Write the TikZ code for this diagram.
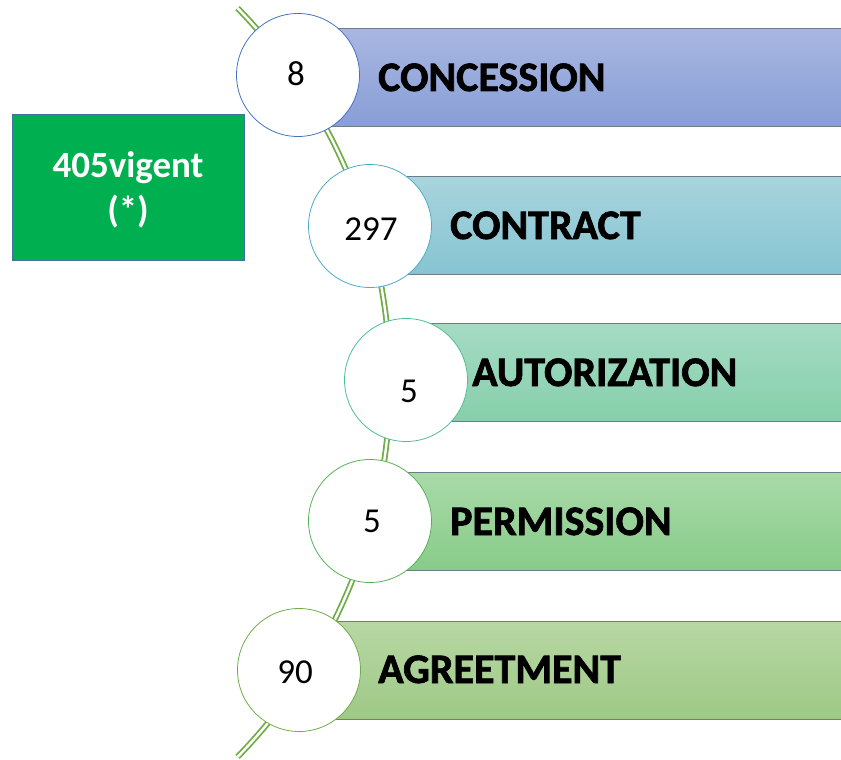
\documentclass[tikz,border=0pt]{standalone}
\usepackage{fontspec}
\setmainfont{Carlito}
\newfontfamily\heavyfont{Carlito}[BoldFont={Carlito Bold}, BoldFeatures={FakeBold=1.6}]
\definecolor{barline}{HTML}{6F7C86}
\definecolor{spinegreen}{HTML}{70AD47}
\definecolor{bAt}{HTML}{A9B7E1}\definecolor{bAb}{HTML}{889ED7}
\definecolor{bBt}{HTML}{A8D4DD}\definecolor{bBb}{HTML}{86C4D2}
\definecolor{bCt}{HTML}{A5DBC4}\definecolor{bCb}{HTML}{86CFAB}
\definecolor{bDt}{HTML}{A9DAA9}\definecolor{bDb}{HTML}{88CB89}
\definecolor{bEt}{HTML}{B8D7A4}\definecolor{bEb}{HTML}{9EC986}
\definecolor{cA}{HTML}{4472C4}
\definecolor{cB}{HTML}{4BACC6}
\definecolor{cC}{HTML}{4DBE95}
\definecolor{cD}{HTML}{55B257}
\definecolor{cE}{HTML}{70AD47}
\definecolor{boxgreen}{HTML}{00B050}
\definecolor{boxline}{HTML}{41719C}
\begin{document}
\begin{tikzpicture}[x=1pt,y=-1pt,
  bar/.style 2 args={rectangle, draw=barline, line width=0.7pt, top color=#1, bottom color=#2,
     anchor=north west, minimum width=540pt, minimum height=98pt, inner sep=0pt},
  numcircle/.style={circle, draw=#1, line width=0.8pt, fill=white, minimum size=123pt, inner sep=0pt},
  spine/.style={draw=spinegreen, line width=1.8pt, double=white, double distance=2.4pt},
  bartext/.style={anchor=base west, font=\fontsize{42}{46}\heavyfont\bfseries, inner sep=0pt},
  numtext/.style={anchor=base, font=\fontsize{35}{40}\selectfont, inner sep=0pt},
  boxtext/.style={anchor=base, font=\fontsize{37}{40}\selectfont\bfseries, text=white, inner sep=0pt}]
\clip (0,0) rectangle (841,760);
\useasboundingbox (0,0) rectangle (841,760);
% bars
\node[bar={bAt}{bAb}] (b1) at (320,28) {};
\node[bar={bBt}{bBb}] (b2) at (360,176) {};
\node[bar={bCt}{bCb}] (b3) at (400,323) {};
\node[bar={bDt}{bDb}] (b4) at (360,472) {};
\node[bar={bEt}{bEb}] (b5) at (320,621) {};
% spine
\coordinate (sc) at (-146,382.5);
\draw[spine] (sc) ++(-44.3:536) arc[start angle=-44.3, end angle=44.3, radius=536];
% circles
\node[numcircle=cA] (c1) at (298,75) {};
\node[numcircle=cB] (c2) at (370,226) {};
\node[numcircle=cC] (c3) at (406,380) {};
\node[numcircle=cD] (c4) at (370,521) {};
\node[numcircle=cE] (c5) at (299,670) {};
% numbers
\node[numtext] (n1) at (296,85) {8};
\node[numtext] (n2) at (371,240) {297};
\node[numtext] (n3) at (409,402) {5};
\node[numtext] (n4) at (372,532) {5};
\node[numtext] (n5) at (295,683) {90};
% bar labels
\node[bartext] (t1) at (378,91) {CONCESSION};
\node[bartext] (t2) at (450,239) {CONTRACT};
\node[bartext] (t3) at (472,386) {AUTORIZATION};
\node[bartext] (t4) at (450,535) {PERMISSION};
\node[bartext] (t5) at (378,683) {AGREETMENT};
% green box
\node[rectangle, draw=boxline, line width=1.2pt, fill=boxgreen, anchor=north west,
      minimum width=232pt, minimum height=146pt, inner sep=0pt] (gb) at (12,114) {};
\node[boxtext] (g1) at (128,177) {405vigent};
\node[boxtext] (g2) at (128,222) {(*)};
\end{tikzpicture}
\end{document}
